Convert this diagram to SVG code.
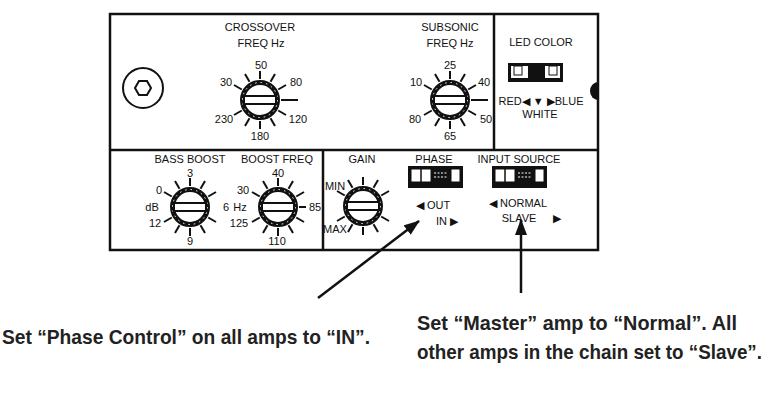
<svg xmlns="http://www.w3.org/2000/svg" width="772" height="401" viewBox="0 0 772 401">
<style>
.t{font-family:"Liberation Sans",Arial,sans-serif;font-size:11px;fill:#111}
.b{font-family:"Liberation Sans Narrow","Liberation Sans",sans-serif;font-weight:bold;font-size:21px;fill:#222}
.ln{stroke:#111;fill:none}
.tk{stroke:#111;stroke-width:2}
</style>
<defs>
<g id="knob">
<g class="tk">
<line x1="0" y1="-21" x2="0" y2="-29"/><line x1="0" y1="21" x2="0" y2="29"/>
<line x1="10.5" y1="-18.2" x2="15" y2="-26"/><line x1="-10.5" y1="-18.2" x2="-15" y2="-26"/>
<line x1="10.5" y1="18.2" x2="15" y2="26"/><line x1="-10.5" y1="18.2" x2="-15" y2="26"/>
<line x1="18.2" y1="-10.5" x2="26" y2="-15"/><line x1="-18.2" y1="-10.5" x2="-26" y2="-15"/>
<line x1="18.2" y1="10.5" x2="26" y2="15"/><line x1="-18.2" y1="10.5" x2="-26" y2="15"/>
</g>
<circle r="17.5" fill="#fff" stroke="#111" stroke-width="5"/>
<circle r="17.5" fill="none" stroke="#fff" stroke-width="1" stroke-dasharray="1.5 4"/>
<rect x="-16" y="-4" width="32" height="8" fill="#fff" stroke="#111" stroke-width="2"/>
</g>
<g id="sw">
<rect x="0" y="0" width="55" height="22" fill="#111"/>
<rect x="3" y="3" width="49" height="13" fill="#fff"/>
<rect x="3" y="3" width="10" height="13" fill="none" stroke="#111"/>
<rect x="13" y="3" width="10" height="13" fill="none" stroke="#111"/>
<rect x="23" y="3" width="20" height="13" fill="#111"/>
<g stroke="#fff" stroke-width="1"><line x1="26" y1="7" x2="40" y2="7" stroke-dasharray="2 1.5"/><line x1="26" y1="11" x2="40" y2="11" stroke-dasharray="2 1.5"/></g>
<rect x="43" y="3" width="9" height="13" fill="none" stroke="#111"/>
</g>
<marker id="ah" markerWidth="16" markerHeight="12" refX="15" refY="6" orient="auto" markerUnits="userSpaceOnUse"><path d="M0,0 L16,6 L0,12 z" fill="#111"/></marker>
</defs>
<rect width="772" height="401" fill="#fff"/>
<g id="panel">
<path class="ln" stroke-width="2.5" d="M110,14 H598 V250 H110 Z M110,150 H598 M494,14 V150 M323,150 V250"/>
<path d="M598,82 a8,9 0 0 0 0,18 z" fill="#111"/>
<circle cx="143" cy="88" r="20" class="ln" stroke-width="2"/>
<polygon points="135,88 139,81 147,81 151,88 147,95 139,95" class="ln" stroke-width="2"/>
</g>
<g id="crossover">
<text class="t" x="260" y="31" text-anchor="middle">CROSSOVER</text>
<text class="t" x="261" y="47" text-anchor="middle">FREQ Hz</text>
<use href="#knob" x="260" y="100"/>
<line class="tk" x1="281" y1="100" x2="298" y2="100"/>
<text class="t" x="261" y="69" text-anchor="middle">50</text>
<text class="t" x="226" y="86" text-anchor="middle">30</text>
<text class="t" x="296" y="86" text-anchor="middle">80</text>
<text class="t" x="224" y="123" text-anchor="middle">230</text>
<text class="t" x="298" y="123" text-anchor="middle">120</text>
<text class="t" x="260" y="140" text-anchor="middle">180</text>
</g>
<g id="subsonic">
<text class="t" x="450" y="31" text-anchor="middle">SUBSONIC</text>
<text class="t" x="450" y="47" text-anchor="middle">FREQ Hz</text>
<use href="#knob" x="450" y="100"/>
<line class="tk" x1="471" y1="100" x2="488" y2="100"/>
<text class="t" x="450" y="69" text-anchor="middle">25</text>
<text class="t" x="416" y="86" text-anchor="middle">10</text>
<text class="t" x="484" y="86" text-anchor="middle">40</text>
<text class="t" x="415" y="123" text-anchor="middle">80</text>
<text class="t" x="486" y="123" text-anchor="middle">50</text>
<text class="t" x="450" y="140" text-anchor="middle">65</text>
</g>
<g id="led">
<text class="t" x="541" y="46" text-anchor="middle">LED COLOR</text>
<rect x="508" y="63" width="55" height="19" fill="#111"/>
<rect x="511" y="66" width="49" height="12" fill="#fff"/>
<rect x="514" y="66" width="8" height="9" fill="none" stroke="#111"/>
<rect x="549" y="66" width="8" height="9" fill="none" stroke="#111"/>
<rect x="528" y="66" width="17" height="12" fill="#111"/>
<text class="t" x="541" y="105" text-anchor="middle">RED◀ ▼ ▶BLUE</text>
<text class="t" x="540" y="118" text-anchor="middle">WHITE</text>
</g>
<g id="bassboost">
<text class="t" x="190" y="163" text-anchor="middle">BASS BOOST</text>
<use href="#knob" x="190" y="207"/>
<text class="t" x="190" y="177" text-anchor="middle">3</text>
<text class="t" x="159" y="194" text-anchor="middle">0</text>
<text class="t" x="152" y="211" text-anchor="middle">dB</text>
<text class="t" x="226" y="211" text-anchor="middle">6</text>
<text class="t" x="155" y="227" text-anchor="middle">12</text>
<text class="t" x="190" y="245" text-anchor="middle">9</text>
</g>
<g id="boostfreq">
<text class="t" x="277" y="163" text-anchor="middle">BOOST FREQ</text>
<use href="#knob" x="278" y="207"/>
<line class="tk" x1="299" y1="207" x2="306" y2="207"/>
<text class="t" x="278" y="177" text-anchor="middle">40</text>
<text class="t" x="243" y="194" text-anchor="middle">30</text>
<text class="t" x="240" y="211" text-anchor="middle">Hz</text>
<text class="t" x="315" y="211" text-anchor="middle">85</text>
<text class="t" x="239" y="227" text-anchor="middle">125</text>
<text class="t" x="277" y="245" text-anchor="middle">110</text>
</g>
<g id="gain">
<text class="t" x="362" y="163" text-anchor="middle">GAIN</text>
<use href="#knob" x="363" y="206"/>
<text class="t" x="335" y="190" text-anchor="middle" font-size="8">MIN</text>
<text class="t" x="335" y="233" text-anchor="middle" font-size="8">MAX</text>
</g>
<g id="phase">
<text class="t" x="434" y="163" text-anchor="middle">PHASE</text>
<use href="#sw" x="408" y="166"/>
<text class="t" x="433" y="209" text-anchor="middle">◀ OUT</text>
<text class="t" x="447" y="225" text-anchor="middle">IN ▶</text>
</g>
<g id="inputsource">
<text class="t" x="519" y="163" text-anchor="middle">INPUT SOURCE</text>
<use href="#sw" x="492" y="166"/>
<text class="t" x="518" y="207" text-anchor="middle">◀ NORMAL</text>
<text class="t" x="519" y="222" text-anchor="middle">SLAVE</text>
<text class="t" x="557" y="222" text-anchor="middle">▶</text>
</g>
<g id="connectors">
<line class="ln" stroke-width="2.5" x1="318" y1="298" x2="419" y2="221" marker-end="url(#ah)"/>
<line class="ln" stroke-width="2.5" x1="521" y1="293" x2="521" y2="220" marker-end="url(#ah)"/>
</g>
<g id="labels">
<text class="b" x="2" y="344" textLength="368" lengthAdjust="spacingAndGlyphs">Set “Phase Control” on all amps to “IN”.</text>
<text class="b" x="417" y="330" textLength="320" lengthAdjust="spacingAndGlyphs">Set “Master” amp to “Normal”. All</text>
<text class="b" x="417" y="359" textLength="345" lengthAdjust="spacingAndGlyphs">other amps in the chain set to “Slave”.</text>
</g>
</svg>
